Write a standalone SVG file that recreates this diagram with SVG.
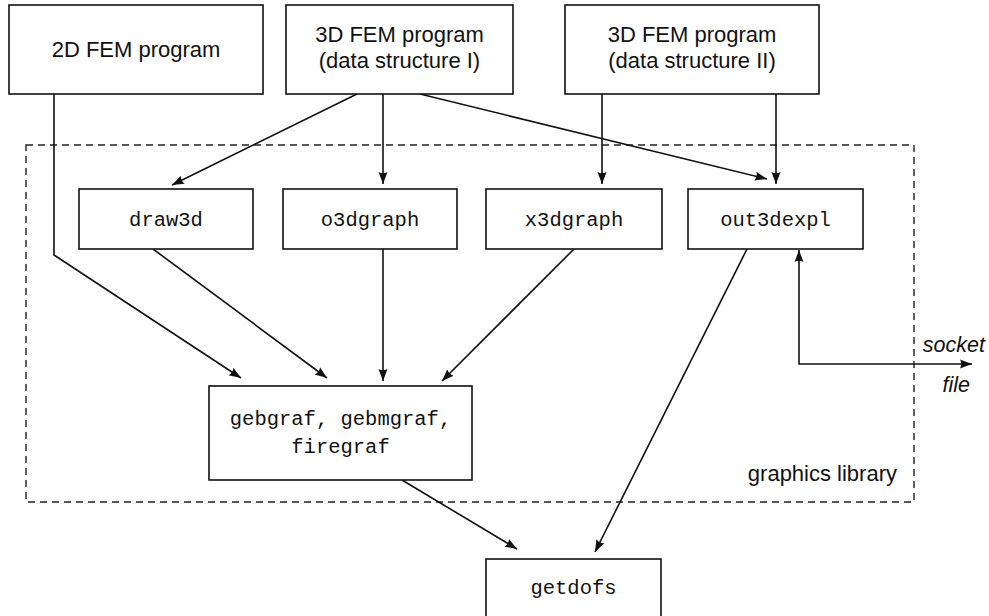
<svg xmlns="http://www.w3.org/2000/svg" width="989" height="616" viewBox="0 0 989 616">
  <style>
    .box { fill: #fff; stroke: #111; stroke-width: 1.6; }
    .sans { font-family: "Liberation Sans", Arial, sans-serif; font-size: 22px; fill: #111; }
    .ital { font-family: "Liberation Sans", Arial, sans-serif; font-style: italic; font-size: 21.5px; fill: #111; }
    .mono { font-family: "Liberation Mono", "Courier New", monospace; font-size: 20.5px; fill: #111; }
    .edge { fill: none; stroke: #111; stroke-width: 1.6; }
    .lib { fill: none; stroke: #222; stroke-width: 1.4; stroke-dasharray: 7 5; }
  </style>
  <defs>
    <marker id="arrow" markerUnits="userSpaceOnUse" markerWidth="14" markerHeight="12" refX="12" refY="6" orient="auto-start-reverse" viewBox="0 0 14 12">
      <path d="M12,6 L0,1.5 Q2.5,6 0,10.5 Z" fill="#111"/>
    </marker>
  </defs>

  <rect width="989" height="616" fill="#fff"/>

  <!-- graphics library frame -->
  <g id="graphics-library">
    <rect class="lib" x="26" y="145" width="888" height="357"/>
    <text class="sans" x="897" y="481" text-anchor="end">graphics library</text>
  </g>

  <!-- connectors -->
  <g id="connectors">
    <path class="edge" d="M54,94 L54,255 L241,378" marker-end="url(#arrow)"/>
    <path class="edge" d="M357,94 L172,185" marker-end="url(#arrow)"/>
    <path class="edge" d="M383,94 L383,184" marker-end="url(#arrow)"/>
    <path class="edge" d="M420,94 L767,179" marker-end="url(#arrow)"/>
    <path class="edge" d="M602,94 L602,184" marker-end="url(#arrow)"/>
    <path class="edge" d="M776,94 L776,184" marker-end="url(#arrow)"/>
    <path class="edge" d="M153,249 L327,378" marker-end="url(#arrow)"/>
    <path class="edge" d="M383,249 L383,381" marker-end="url(#arrow)"/>
    <path class="edge" d="M574,249 L442,381" marker-end="url(#arrow)"/>
    <path class="edge" d="M747,249 L595,552" marker-end="url(#arrow)"/>
    <path class="edge" d="M402,480 L517,549" marker-end="url(#arrow)"/>
    <path class="edge" d="M799,250 L799,364 L972,364" marker-start="url(#arrow)" marker-end="url(#arrow)"/>
    <text class="ital" x="985" y="352" text-anchor="end">socket</text>
    <text class="ital" x="970" y="392" text-anchor="end">file</text>
  </g>

  <!-- program nodes -->
  <g id="fem2d">
    <rect class="box" x="9" y="5" width="254" height="89"/>
    <text class="sans" x="136" y="57" text-anchor="middle">2D FEM program</text>
  </g>
  <g id="fem3d-ds1">
    <rect class="box" x="286" y="5" width="227" height="89"/>
    <text class="sans" x="399.5" y="42" text-anchor="middle">3D FEM program</text>
    <text class="sans" x="399.5" y="68" text-anchor="middle">(data structure I)</text>
  </g>
  <g id="fem3d-ds2">
    <rect class="box" x="565" y="5" width="254" height="89"/>
    <text class="sans" x="692" y="42" text-anchor="middle">3D FEM program</text>
    <text class="sans" x="692" y="68" text-anchor="middle">(data structure II)</text>
  </g>

  <!-- library modules -->
  <g id="draw3d">
    <rect class="box" x="79" y="189" width="174" height="60"/>
    <text class="mono" x="166" y="226" text-anchor="middle">draw3d</text>
  </g>
  <g id="o3dgraph">
    <rect class="box" x="283" y="189" width="174" height="60"/>
    <text class="mono" x="370" y="226" text-anchor="middle">o3dgraph</text>
  </g>
  <g id="x3dgraph">
    <rect class="box" x="486" y="189" width="176" height="60"/>
    <text class="mono" x="574" y="226" text-anchor="middle">x3dgraph</text>
  </g>
  <g id="out3dexpl">
    <rect class="box" x="688" y="189" width="175" height="60"/>
    <text class="mono" x="775.5" y="226" text-anchor="middle">out3dexpl</text>
  </g>
  <g id="gebgraf">
    <rect class="box" x="209" y="386" width="263" height="94"/>
    <text class="mono" x="340.5" y="425" text-anchor="middle">gebgraf, gebmgraf,</text>
    <text class="mono" x="340.5" y="453" text-anchor="middle">firegraf</text>
  </g>
  <g id="getdofs">
    <rect class="box" x="486" y="559" width="175" height="60"/>
    <text class="mono" x="573.5" y="594" text-anchor="middle">getdofs</text>
  </g>
</svg>
